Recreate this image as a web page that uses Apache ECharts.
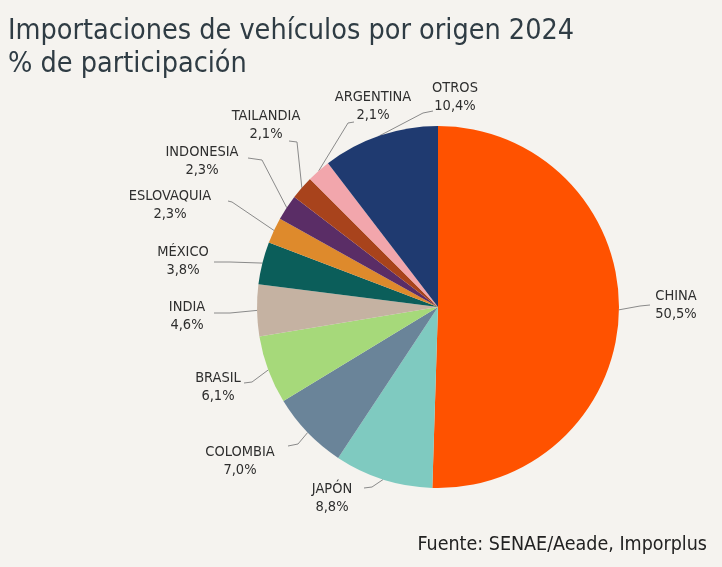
<!DOCTYPE html>
<html>
<head>
<meta charset="utf-8">
<script src="https://cdn.jsdelivr.net/npm/echarts@6/dist/echarts.min.js"></script>
<style>
  html, body { margin: 0; padding: 0; background: #F5F3EF; }
  #chart { width: 722px; height: 567px; }
</style>
</head>
<body>
<div id="chart"></div>
<script>
// Share of vehicle imports by country of origin, 2024 (%)
const countries = ['CHINA', 'JAPÓN', 'COLOMBIA', 'BRASIL', 'INDIA', 'MÉXICO',
                   'ESLOVAQUIA', 'INDONESIA', 'TAILANDIA', 'ARGENTINA', 'OTROS'];
const shares = [50.5, 8.8, 7.0, 6.1, 4.6, 3.8, 2.3, 2.3, 2.1, 2.1, 10.4];
const sliceColors = ['#FF5200', '#7FCAC0', '#6A8499', '#A6D97A', '#C5B2A2', '#0B5E5A',
                     '#DE8A2C', '#5A2D66', '#A8431C', '#F2A6AC', '#1F3A70'];

// Callout placement: text block centre, then the bend and end of the leader line
const calloutText = [[676, 305], [332, 498], [240, 461], [218, 387], [187, 316], [183, 261],
                     [170, 205], [202, 161], [266, 125], [373, 106], [455, 97]];
const calloutBend = [[640, 306], [372, 487], [298, 444], [252, 382], [230, 313], [230, 262],
                     [232, 202], [262, 160], [297, 142], [348, 123], [423, 113]];
const calloutEnd  = [[650, 305], [364, 488], [288, 446], [244, 383], [214, 313], [214, 262],
                     [228, 201], [248, 158], [289, 141], [354, 122], [433, 111]];

const fmtPct = v => v.toFixed(1).replace('.', ',') + '%';

const chart = echarts.init(document.getElementById('chart'), null, { renderer: 'canvas' });
const FONT = '"DejaVu Sans Condensed", "Liberation Sans Narrow", "Roboto", sans-serif';

chart.setOption({
  backgroundColor: '#F5F3EF',
  animation: false,
  title: [
    {
      text: 'Importaciones de vehículos por origen 2024\n% de participación',
      left: 3, top: 10,
      textStyle: { fontFamily: FONT, fontSize: 28.5, fontWeight: 'normal', color: '#2F3C44', lineHeight: 33 }
    },
    {
      text: 'Fuente: SENAE/Aeade, Imporplus',
      right: 10, top: 530,
      textStyle: { fontFamily: FONT, fontSize: 19.5, fontWeight: 'normal', color: '#222' }
    }
  ],
  series: [{
    type: 'pie',
    center: [438, 307],
    radius: 181,
    startAngle: 90,
    clockwise: true,
    avoidLabelOverlap: false,
    data: countries.map((c, i) => ({ name: c, value: shares[i], itemStyle: { color: sliceColors[i] } })),
    label: {
      show: true,
      position: 'outside',
      formatter: p => p.name + '\n' + fmtPct(p.value),
      fontFamily: FONT,
      fontSize: 14.5,
      lineHeight: 18,
      color: '#2E2E2E',
      align: 'center'
    },
    labelLine: {
      show: true,
      length: 10,
      length2: 10,
      lineStyle: { color: '#8A8A8A', width: 1 }
    },
    labelLayout: function (params) {
      const i = params.dataIndex;
      const pts = params.labelLinePoints;
      const start = pts ? pts[0] : calloutBend[i];
      return {
        x: calloutText[i][0],
        y: calloutText[i][1],
        align: 'center',
        verticalAlign: 'middle',
        labelLinePoints: [start, calloutBend[i], calloutEnd[i]]
      };
    }
  }]
});
</script>
</body>
</html>
